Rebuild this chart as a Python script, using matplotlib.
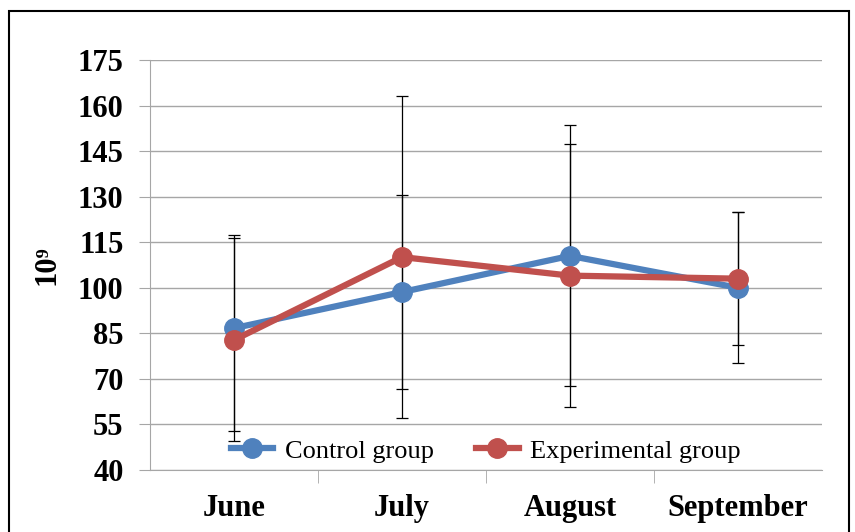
import numpy as np
import matplotlib
matplotlib.use('Agg')
from matplotlib import pyplot as plt
from matplotlib.patches import Rectangle

plt.rcParams['font.family'] = ['Liberation Serif', 'DejaVu Serif']

months = ['June', 'July', 'August', 'September']
ctrl_mean = [86.7, 98.6, 110.5, 100.0]
ctrl_err_low = [33.8, 31.8, 43.0, 24.9]
ctrl_err_high = [29.8, 31.8, 43.0, 24.9]
exp_mean = [82.8, 110.1, 104.0, 103.0]
exp_err_low = [33.1, 53.0, 43.4, 21.9]
exp_err_high = [34.6, 53.0, 43.4, 21.9]

blue = '#4F81BD'
red = '#C0504D'
grid_c = '#A6A6A6'

fig = plt.figure(figsize=(8.55, 5.32), dpi=100)
ax = fig.add_axes([150 / 855, 62 / 532, 672 / 855, 410 / 532])
fig.patches.append(Rectangle((9 / 855, -0.01), 840 / 855, 0.99, transform=fig.transFigure,
                             fill=False, edgecolor='black', linewidth=1.5))

x = np.arange(len(months))
ax.errorbar(x, ctrl_mean, yerr=[ctrl_err_low, ctrl_err_high], fmt='none', ecolor='black',
            elinewidth=0.9, capsize=4, capthick=0.9, zorder=2)
ax.errorbar(x, exp_mean, yerr=[exp_err_low, exp_err_high], fmt='none', ecolor='black',
            elinewidth=0.9, capsize=4, capthick=0.9, zorder=2)
ax.plot(x, ctrl_mean, color=blue, linewidth=4.5, marker='o', markersize=14, label='Control group', zorder=3)
ax.plot(x, exp_mean, color=red, linewidth=4.5, marker='o', markersize=14, label='Experimental group', zorder=4)

ax.set_xlim(-0.5, 3.5)
ax.set_ylim(40, 175)
ax.set_yticks(np.arange(40, 176, 15))
ax.grid(axis='y', color=grid_c, linewidth=1)
ax.set_axisbelow(True)
for s in ['top', 'right']:
    ax.spines[s].set_visible(False)
for s in ['left', 'bottom']:
    ax.spines[s].set_color(grid_c)

ax.set_xticks(x)
ax.set_xticklabels(months, fontsize=22, fontweight='bold')
ax.set_xticks([0.5, 1.5, 2.5], minor=True)
ax.tick_params(axis='x', which='major', length=0, pad=17)
ax.tick_params(axis='x', which='minor', length=9, color=grid_c)
ax.tick_params(axis='y', length=8, color=grid_c, pad=11)
for lab in ax.get_yticklabels():
    lab.set_fontsize(22)
    lab.set_fontweight('bold')

ax.set_ylabel('10⁹', fontsize=22, fontweight='bold', labelpad=12)

ax.legend(loc='lower center', bbox_to_anchor=(0.5, -0.04), ncol=2, frameon=False,
          prop={'size': 19}, handlelength=1.6, handletextpad=0.45, columnspacing=1.6)

plt.savefig('out.png', dpi=100)
